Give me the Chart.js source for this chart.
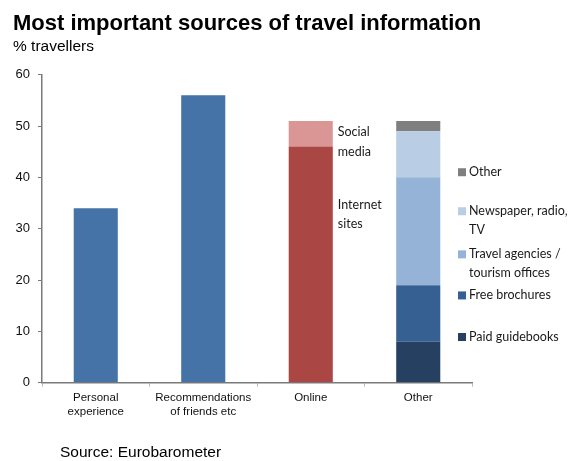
<!DOCTYPE html>
<html lang="en">

<head>
  <meta charset="UTF-8">
  <title>Most important sources of travel information</title>
  <style>
    html,
    body {
      margin: 0;
      padding: 0;
      background: #fff;
    }

    #wrap {
      width: 576px;
      height: 461px;
      position: relative;
    }
  </style>
  <script src="https://cdn.jsdelivr.net/npm/chart.js@4.4.4/dist/chart.umd.js"></script>
</head>

<body>
  <div id="wrap">
    <canvas id="chart_1" width="576" height="461"></canvas>
  </div>
</body>
<script>
  // values (% travellers)
  const categories = [['Personal', 'experience'], ['Recommendations', 'of friends etc'], 'Online', 'Other'];
  const yTicks = [0, 10, 20, 30, 40, 50, 60];

  const mainSources = [34, 56, null, null];
  const internetSites = [null, null, 46, null];
  const socialMedia = [null, null, 5, null];
  const paidGuidebooks = [null, null, null, 8];
  const freeBrochures = [null, null, null, 11];
  const travelAgencies = [null, null, null, 21];
  const newspaperRadioTv = [null, null, null, 9];
  const otherSources = [null, null, null, 2];

  const titleText = 'Most important sources of travel information';
  const subtitleText = '% travellers';
  const sourceText = 'Source: Eurobarometer';

  const labelFont = '12.5px Lato';

  function bar(label, data, color) {
    return {
      label: label,
      data: data,
      backgroundColor: color,
      borderWidth: 0,
      stack: 's',
      categoryPercentage: 1,
      barPercentage: 0.41
    };
  }

  // titles, source line and the side labels
  const annotations = {
    id: 'annotations',
    afterDraw(chart) {
      const ctx = chart.ctx;
      const y = chart.scales.y;
      const area = chart.chartArea;
      ctx.save();
      ctx.fillStyle = '#000';
      ctx.textBaseline = 'middle';
      ctx.textAlign = 'left';
      ctx.font = 'bold 22px "Liberation Sans", Arial';
      ctx.fillText(titleText, 13, 24);
      ctx.font = '15.5px "Liberation Sans", Arial';
      ctx.fillText(subtitleText, 13, 47);
      ctx.fillText(sourceText, 60, 453);

      ctx.font = labelFont;
      ctx.fillStyle = '#1a1a1a';
      const online = chart.getDatasetMeta(1).data[2];
      const tx = online.x + online.width / 2 + 5;
      ctx.fillText('Social', tx, y.getPixelForValue(48.8));
      ctx.fillText('media', tx, y.getPixelForValue(44.9));
      ctx.fillText('Internet', tx, y.getPixelForValue(34.6));
      ctx.fillText('sites', tx, y.getPixelForValue(30.9));

      // legend for the stacked "Other" bar
      const legend = [
        { ds: 7, lines: ['Other'], at: 41 },
        { ds: 6, lines: ['Newspaper, radio,', 'TV'], at: 33.4 },
        { ds: 5, lines: ['Travel agencies /', 'tourism offices'], at: 25 },
        { ds: 4, lines: ['Free brochures'], at: 17 },
        { ds: 3, lines: ['Paid guidebooks'], at: 8.9 }
      ];
      const lx = area.right - 14;
      legend.forEach(item => {
        const py = y.getPixelForValue(item.at);
        ctx.fillStyle = chart.data.datasets[item.ds].backgroundColor;
        ctx.fillRect(lx, py - 4, 8, 8);
        ctx.fillStyle = '#1a1a1a';
        item.lines.forEach((line, i) => {
          ctx.fillText(line, lx + 11, py + i * 19);
        });
      });
      ctx.restore();
    }
  };

  new Chart('chart_1', {
    type: 'bar',
    data: {
      labels: categories,
      datasets: [
        bar('Main', mainSources, '#4572A7'),
        bar('Internet sites', internetSites, '#AA4643'),
        bar('Social media', socialMedia, '#D99694'),
        bar('Paid guidebooks', paidGuidebooks, '#254061'),
        bar('Free brochures', freeBrochures, '#376092'),
        bar('Travel agencies / tourism offices', travelAgencies, '#95B3D7'),
        bar('Newspaper, radio, TV', newspaperRadioTv, '#B9CDE5'),
        bar('Other', otherSources, '#7F7F7F')
      ]
    },
    options: {
      responsive: false,
      animation: false,
      events: [],
      layout: {
        padding: { left: 0, right: 104, top: 74.7, bottom: 0 }
      },
      plugins: {
        legend: { display: false },
        tooltip: { enabled: false }
      },
      scales: {
        x: {
          stacked: true,
          border: { display: true, color: '#7a7a7a', width: 1.5 },
          grid: {
            offset: true,
            drawOnChartArea: false,
            drawTicks: true,
            tickLength: 4,
            color: '#bbb'
          },
          ticks: {
            color: '#111',
            font: { family: '"Liberation Sans", Arial', size: 11.5 },
            padding: 4,
            maxRotation: 0,
            autoSkip: false
          },
          afterFit(scale) {
            scale.height = 78.3;
          }
        },
        y: {
          stacked: true,
          min: 0,
          max: 60,
          afterBuildTicks(scale) {
            scale.ticks = yTicks.map(v => ({ value: v }));
          },
          border: { display: true, color: '#7a7a7a', width: 1.5 },
          grid: {
            drawOnChartArea: false,
            drawTicks: true,
            tickLength: 4,
            color: '#7a7a7a'
          },
          ticks: {
            color: '#111',
            font: { family: '"Liberation Sans", Arial', size: 13 },
            padding: 8
          },
          afterFit(scale) {
            scale.width = 42;
          }
        }
      }
    },
    plugins: [annotations]
  });
</script>

</html>
